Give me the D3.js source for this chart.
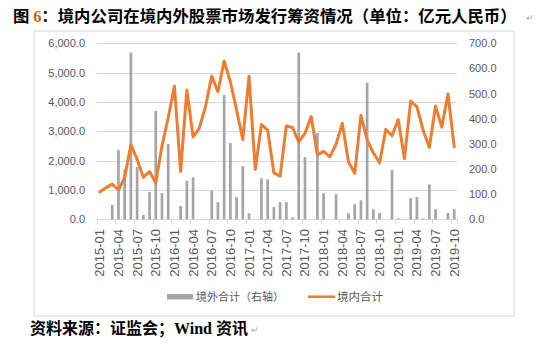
<!DOCTYPE html>
<html><head><meta charset="utf-8">
<script src="https://cdn.jsdelivr.net/npm/d3@7/dist/d3.min.js"></script>
<style>body{margin:0;background:#fff;} svg{display:block;}</style>
</head><body>
<script>
const categories = ["2015-01","2015-02","2015-03","2015-04","2015-05","2015-06","2015-07","2015-08","2015-09","2015-10","2015-11","2015-12",
"2016-01","2016-02","2016-03","2016-04","2016-05","2016-06","2016-07","2016-08","2016-09","2016-10","2016-11","2016-12",
"2017-01","2017-02","2017-03","2017-04","2017-05","2017-06","2017-07","2017-08","2017-09","2017-10","2017-11","2017-12",
"2018-01","2018-02","2018-03","2018-04","2018-05","2018-06","2018-07","2018-08","2018-09","2018-10","2018-11","2018-12",
"2019-01","2019-02","2019-03","2019-04","2019-05","2019-06","2019-07","2019-08","2019-09","2019-10"];
// 境外合计（右轴）
const overseas = [0,0,57,275,199,663,208,17,108,431,104,299,
0,53,153,167,0,0,114,68,494,303,88,211,
24,0,163,159,48,68,68,8,663,247,0,343,
104,0,100,0,24,60,76,543,40,25,0,195,
4,0,84,88,4,139,40,0,25,40];
// 境内合计
const domestic = [930,1080,1200,1000,1420,2540,2050,1430,1630,1240,2500,3460,
4540,1630,4410,2810,3100,3840,4880,4350,5400,4690,3720,2720,
4880,1700,3230,3040,1580,1470,3180,3130,2640,2930,3500,2190,
2320,2130,2560,3270,1960,1570,3550,2700,2270,1920,3070,2850,
3400,2070,4030,3840,3040,2450,3860,3140,4270,2470];
const leftTicks = [0,1000,2000,3000,4000,5000,6000];
const rightTicks = [0,100,200,300,400,500,600,700];
const labelEvery = 3;
const titleText = ["图 ","6","：境内公司在境内外股票市场发行筹资情况（单位：亿元人民币）"];
const legendNames = ["境外合计（右轴）","境内合计"];

const W=539,H=356;
const svg=d3.select("body").append("svg").attr("width",W).attr("height",H);
const font="Arial, 'Liberation Sans', 'Noto Sans CJK SC', sans-serif";
const cjk="'Noto Sans CJK SC', sans-serif";

// title
const t=svg.append("text").attr("x",13).attr("y",22).attr("font-family",cjk).attr("font-weight","bold").attr("font-size","16.4px").attr("fill","#000");
t.append("tspan").text(titleText[0]);
t.append("tspan").attr("fill","#B07010").attr("font-family","'Liberation Serif', serif").text(titleText[1]);
t.append("tspan").text(titleText[2]);
svg.append("text").attr("x",526).attr("y",21).attr("font-size","9px").attr("fill","#aaa").attr("font-family",font).text("↵");

// chart frame
svg.append("rect").attr("x",34).attr("y",31).attr("width",480).attr("height",285).attr("fill","none").attr("stroke","#D9D9D9").attr("stroke-width",1);

const x=d3.scaleBand().domain(categories).range([96.7,457.3]).padding(0);
const yL=d3.scaleLinear().domain([0,6000]).range([219.3,43.3]);
const yR=d3.scaleLinear().domain([0,700]).range([219.3,43.3]);

// gridlines
svg.append("g").selectAll("line").data(leftTicks).join("line")
  .attr("x1",x.range()[0]).attr("x2",x.range()[1])
  .attr("y1",d=>Math.round(yL(d))+0.5).attr("y2",d=>Math.round(yL(d))+0.5)
  .attr("stroke","#D9D9D9").attr("stroke-width",1);

// left axis labels
svg.append("g").selectAll("text").data(leftTicks).join("text")
  .attr("x",85).attr("y",d=>yL(d)+4).attr("text-anchor","end")
  .attr("font-family",font).attr("font-size","11px").attr("fill","#595959")
  .text(d=>d3.format(",.1f")(d));
// right axis labels
svg.append("g").selectAll("text").data(rightTicks).join("text")
  .attr("x",469).attr("y",d=>yR(d)+4).attr("text-anchor","start")
  .attr("font-family",font).attr("font-size","11px").attr("fill","#595959")
  .text(d=>d3.format(".1f")(d));

// x tick marks
const bw=x.bandwidth();
const tickIdx=d3.range(0,categories.length,labelEvery).concat([categories.length]);
svg.append("g").selectAll("line").data(tickIdx).join("line")
  .attr("x1",i=>Math.round(x.range()[0]+i*bw)+0.5).attr("x2",i=>Math.round(x.range()[0]+i*bw)+0.5)
  .attr("y1",219.3).attr("y2",224).attr("stroke","#D9D9D9");

// bars
svg.append("g").selectAll("rect").data(overseas).join("rect")
  .attr("x",(d,i)=>x(categories[i])+bw/2-1.35).attr("width",2.7)
  .attr("y",d=>yR(d)).attr("height",d=>yR(0)-yR(d)).attr("fill","#A5A5A5");

// line
const line=d3.line().x((d,i)=>x(categories[i])+bw/2).y(d=>yL(d));
svg.append("path").datum(domestic).attr("d",line).attr("fill","none")
  .attr("stroke","#ED7D31").attr("stroke-width",3).attr("stroke-linejoin","round").attr("stroke-linecap","round");

// x labels
svg.append("g").selectAll("text").data(categories.filter((c,i)=>i%labelEvery===0)).join("text")
  .attr("transform",d=>`translate(${x(d)+bw/2+4.5},229) rotate(-90)`)
  .attr("text-anchor","end").attr("font-family",font).attr("font-size","13px").attr("fill","#595959")
  .text(d=>d);

// legend
svg.append("rect").attr("x",167).attr("y",294).attr("width",26).attr("height",5.5).attr("fill","#A5A5A5");
svg.append("text").attr("x",196).attr("y",300.5).attr("font-family",cjk).attr("font-size","11px").attr("fill","#595959").text(legendNames[0]);
svg.append("line").attr("x1",308).attr("x2",335).attr("y1",296.7).attr("y2",296.7).attr("stroke","#ED7D31").attr("stroke-width",2.5);
svg.append("text").attr("x",337).attr("y",300.5).attr("font-family",cjk).attr("font-size","11.5px").attr("fill","#595959").text(legendNames[1]);

// footer
const f=svg.append("text").attr("x",30).attr("y",334).attr("font-family",cjk).attr("font-weight","bold").attr("font-size","16px").attr("fill","#000");
f.append("tspan").text("资料来源：证监会；");
f.append("tspan").attr("font-family","'Liberation Serif', serif").text("Wind ");
f.append("tspan").text("资讯");
svg.append("text").attr("x",251).attr("y",333).attr("font-size","9px").attr("fill","#aaa").attr("font-family",font).text("↵");
</script>
</body></html>
